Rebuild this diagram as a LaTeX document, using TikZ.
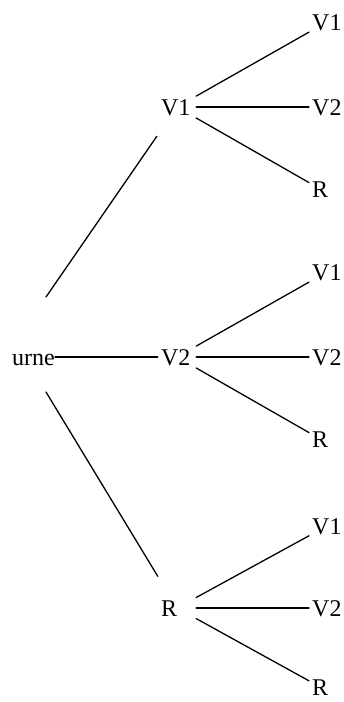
\documentclass[tikz,border=0pt]{standalone}
\usepackage{fontspec}
\setmainfont{Liberation Serif}
\begin{document}
\begin{tikzpicture}[line cap=round,line join=round,x=1pt,y=-1pt,
	every node/.style={font=\fontsize{24}{28}\selectfont,text height=16pt,text depth=0pt,inner sep=3pt},
	mid/.style={text width=32pt,align=left},
	leaf/.style={anchor=west},
	branch/.style={line width=1.3pt}]
	\useasboundingbox (0,0) rectangle (344,702);
	\node[anchor=west,inner sep=0pt] (urne) at (12,357) {urne};
	\coordinate (urne-up) at (46,297);
	\coordinate (urne-dn) at (46,392);
	\node[mid] (v1) at (177,107) {V1};
	\node[mid] (v2) at (177,357) {V2};
	\node[mid] (r) at (177,608) {R};
	\node[leaf] (v1-v1) at (309,22) {V1};
	\node[leaf] (v1-v2) at (309,107) {V2};
	\node[leaf] (v1-r) at (309,189) {R};
	\node[leaf] (v2-v1) at (309,272) {V1};
	\node[leaf] (v2-v2) at (309,357) {V2};
	\node[leaf] (v2-r) at (309,439) {R};
	\node[leaf] (r-v1) at (309,526) {V1};
	\node[leaf] (r-v2) at (309,608) {V2};
	\node[leaf] (r-r) at (309,687) {R};
	\draw [branch,shorten >=22pt] (urne-up)-- (v1);
	\draw [branch] (urne)-- (v2);
	\draw [branch,shorten >=24pt] (urne-dn)-- (r);
	\draw [branch] (v1)-- (v1-v1);
	\draw [branch] (v1)-- (v1-v2);
	\draw [branch] (v1)-- (v1-r);
	\draw [branch] (v2)-- (v2-v1);
	\draw [branch] (v2)-- (v2-v2);
	\draw [branch] (v2)-- (v2-r);
	\draw [branch] (r)-- (r-v1);
	\draw [branch] (r)-- (r-v2);
	\draw [branch] (r)-- (r-r);
\end{tikzpicture}
\end{document}
